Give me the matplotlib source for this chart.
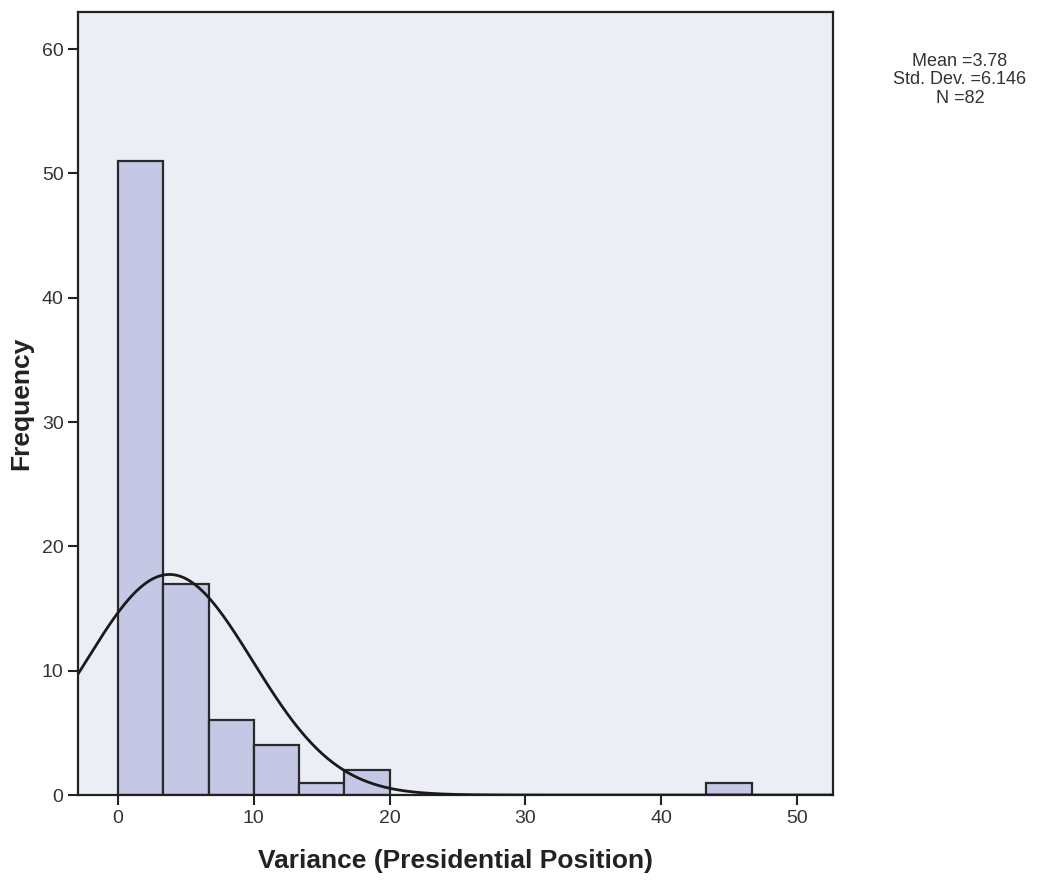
import numpy as np
import matplotlib
matplotlib.use("Agg")
import matplotlib.pyplot as plt

plt.rcParams['font.family'] = ['Liberation Sans', 'DejaVu Sans']

bin_width = 10 / 3
bin_starts = [0, 10/3, 20/3, 10, 40/3, 50/3, 130/3]
counts = [51, 17, 6, 4, 1, 2, 1]
mean, sd, n = 3.78, 6.146, 82
xticks = [0, 10, 20, 30, 40, 50]
yticks = [0, 10, 20, 30, 40, 50, 60]

fig = plt.figure(figsize=(10.55, 8.88), dpi=100)
ax = fig.add_axes([0.074, 0.1047, 0.716, 0.882])
ax.set_facecolor('#eceef6')

ax.bar(bin_starts, counts, width=bin_width, align='edge', color='#c5c8e4',
       edgecolor='#2a2a2a', linewidth=1.6, zorder=2)

xs = np.linspace(-3, 53, 600)
ys = n * bin_width * np.exp(-0.5 * ((xs - mean) / sd) ** 2) / (sd * np.sqrt(2 * np.pi))
ax.plot(xs, ys, color='#1a1a1a', linewidth=2, zorder=3)

ax.set_xlim(-2.95, 52.7)
ax.set_ylim(0, 63.0)
ax.set_xticks(xticks)
ax.set_yticks(yticks)
ax.tick_params(axis='both', labelsize=14, length=7, width=1.5, color='#222222', labelcolor='#333333')
for s in ax.spines.values():
    s.set_linewidth(1.6)
    s.set_color('#222222')

ax.set_xlabel('Variance (Presidential Position)', fontsize=19, fontweight='bold', color='#222222', labelpad=16)
ax.set_ylabel('Frequency', fontsize=19, fontweight='bold', color='#222222', labelpad=6)

fig.text(0.91, 0.91, 'Mean =3.78\nStd. Dev. =6.146\nN =82', ha='center', va='center',
         fontsize=13, color='#333333', linespacing=1.12)

fig.savefig('out.png', dpi=100, facecolor='white')
